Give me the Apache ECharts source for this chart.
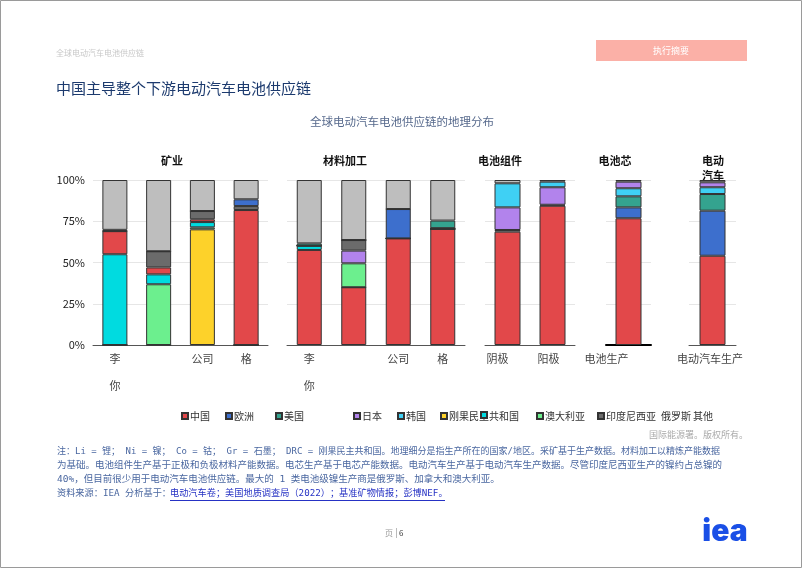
<!DOCTYPE html>
<html>
<head>
<meta charset="utf-8">
<script src="https://cdn.jsdelivr.net/npm/echarts@6/dist/echarts.min.js"></script>
<style>
html,body{margin:0;padding:0;background:#fff;}
#c{width:802px;height:568px;}
</style>
</head>
<body>
<div id="c"></div>
<script>
// ---------- data ----------
const yTicks = [0, 25, 50, 75, 100];

const miningCategories = ['李\n\n你', '', '公司', '格'];
const miningSeries = ['刚果民主共和国', '澳大利亚', '智利', '中国', '印度尼西亚', '欧洲', '其他'];
const miningValues = [
  [0, 0, 70.1, 0],
  [0, 36.8, 1.2, 0],
  [55, 6, 3.2, 0],
  [14, 4.2, 1.7, 81.8],
  [0, 9.8, 5, 2.4],
  [0.8, 0, 0, 4.1],
  [30.2, 43.2, 18.8, 11.7]
];

const processingCategories = ['李\n\n你', '', '公司', '格'];
const processingSeries = ['中国', '智利', '澳大利亚', '日本', '印度尼西亚', '欧洲', '美国', '其他'];
const processingValues = [
  [57.6, 35, 64.6, 70.3],
  [2.6, 0, 0, 0],
  [0, 14.5, 0, 0],
  [0, 7.7, 0, 0],
  [0, 6.4, 0, 0.5],
  [0, 0, 17.8, 0],
  [1.4, 0, 0, 4.6],
  [38.4, 36.4, 17.6, 24.6]
];

const componentCategories = ['阴极', '阳极'];
const componentSeries = ['中国', '印度尼西亚', '日本', '韩国', '其他'];
const componentValues = [
  [68.7, 84.4],
  [1, 0.6],
  [13.7, 10.6],
  [14.6, 3.4],
  [2, 1]
];

const cellCategories = ['电池生产'];
const cellSeries = ['中国', '欧洲', '美国', '韩国', '日本', '其他'];
const cellValues = [[76.8], [6.6], [6.7], [4.9], [4], [1]];

const evCategories = ['电动汽车生产'];
const evSeries = ['中国', '欧洲', '美国', '韩国', '日本', '其他'];
const evValues = [[54.1], [27.3], [10.1], [4.1], [3], [1.4]];

const groupTitles = ['矿业', '材料加工', '电池组件', '电池芯', '电动\n汽车'];
const legendNames = ['中国', '欧洲', '美国', '日本', '韩国', '刚果民主共和国', '智利', '澳大利亚', '印度尼西亚', '其他'];

// ---------- styles ----------
const colors = {
  '中国': '#e2484a', '欧洲': '#3d6fcd', '美国': '#34a38f', '日本': '#b283ec', '韩国': '#3fd0f4',
  '刚果民主共和国': '#fdd22a', '智利': '#00dbe0', '澳大利亚': '#6cef8e', '印度尼西亚': '#6b6b6b', '其他': '#bebebe'
};
const FONT = '"Noto Sans CJK SC", "Noto Sans", sans-serif';
const NOTEFONT = '"DejaVu Sans Mono", "Noto Sans CJK SC", monospace';

const groups = [
  {cats: miningCategories, names: miningSeries, vals: miningValues, left: 93, width: 175},
  {cats: processingCategories, names: processingSeries, vals: processingValues, left: 287, width: 178},
  {cats: componentCategories, names: componentSeries, vals: componentValues, left: 485, width: 90},
  {cats: cellCategories, names: cellSeries, vals: cellValues, left: 606, width: 45},
  {cats: evCategories, names: evSeries, vals: evValues, left: 689, width: 47}
];
const titlePos = [[172, 161], [345, 161], [500, 161], [615, 161], [713, 168]];
const legendLeft = [176, 220, 270, 348, 392, 435, 475, 531, 592, 680];

const grids = [], xAxes = [], yAxes = [], series = [];
groups.forEach((g, i) => {
  grids.push({left: g.left, width: g.width, top: 180, height: 165, containLabel: false});
  const isCell = i === 3;
  const lbl = {
    fontFamily: FONT, fontSize: 11, color: '#444', lineHeight: 13.5, margin: 7, interval: 0
  };
  if (i === 2) {
    lbl.formatter = (v, idx) => idx === 0 ? '{a|' + v + '}' : '{b|' + v + '}';
    lbl.rich = {a: {padding: [0, 20, 0, 0], fontSize: 11, fontFamily: FONT, color: '#444'},
                b: {padding: [0, 8, 0, 0], fontSize: 11, fontFamily: FONT, color: '#444'}};
  }
  if (isCell) lbl.padding = [0, 44, 0, 0];
  if (i === 4) lbl.padding = [0, 5, 0, 0];
  xAxes.push({
    type: 'category', gridIndex: i, data: g.cats,
    axisTick: {show: false},
    axisLine: {lineStyle: {color: isCell ? '#000' : '#555', width: isCell ? 2 : 1}},
    axisLabel: lbl
  });
  yAxes.push({
    type: 'value', gridIndex: i, min: 0, max: 100, interval: 25,
    axisLine: {show: false}, axisTick: {show: false},
    axisLabel: {show: i === 0, formatter: '{value}%', fontFamily: FONT, fontSize: 11, color: '#222', margin: 8},
    splitLine: {lineStyle: {color: '#e6e6e6', width: 1}}
  });
  g.names.forEach((name, k) => {
    series.push({
      type: 'bar', name: name, xAxisIndex: i, yAxisIndex: i, stack: 'g' + i,
      barWidth: i >= 2 ? 26 : 25,
      data: g.vals[k],
      itemStyle: {color: colors[name], borderColor: '#333', borderWidth: 1},
      emphasis: {disabled: true}
    });
  });
});

const legends = legendNames.map((name, i) => {
  const lg = {
    data: [name], left: legendLeft[i], top: 406, icon: 'rect', itemWidth: 6, itemHeight: 6, itemGap: 2,
    textStyle: {fontFamily: FONT, fontSize: 10, color: '#333', padding: [0, 0, 0, -3]},
    selectedMode: false
  };
  if (name === '智利') lg.formatter = () => '';
  if (name === '其他') lg.itemStyle = {color: 'rgba(0,0,0,0)', borderWidth: 0};
  return lg;
});

const graphic = [
  {type: 'rect', shape: {x: 0.5, y: 0.5, width: 801, height: 567}, style: {fill: 'none', stroke: '#9a9a9a', lineWidth: 1}, silent: true},
  {type: 'text', left: 56, top: 49, style: {text: '全球电动汽车电池供应链', font: '8px ' + FONT, fill: '#c8c8c8'}},
  {type: 'rect', shape: {x: 596, y: 40, width: 151, height: 21}, style: {fill: '#fbb0a7'}},
  {type: 'text', x: 671, y: 50.5, style: {text: '执行摘要', font: '9px ' + FONT, fill: '#ffffff', textAlign: 'center', textVerticalAlign: 'middle'}},
  {type: 'text', x: 56, y: 88, style: {text: '中国主导整个下游电动汽车电池供应链', font: '15px ' + FONT, fill: '#1c3a6e', textVerticalAlign: 'middle'}},
  {type: 'text', x: 402, y: 122, style: {text: '全球电动汽车电池供应链的地理分布', font: '11.5px ' + FONT, fill: '#56698c', textAlign: 'center', textVerticalAlign: 'middle'}},
  {type: 'text', x: 661, y: 416, style: {text: '俄罗斯', font: '10px ' + FONT, fill: '#333', textVerticalAlign: 'middle'}},
  {type: 'text', x: 748, y: 435, style: {text: '国际能源署。版权所有。', font: '9px ' + FONT, fill: '#aaaaaa', textAlign: 'right', textVerticalAlign: 'middle'}},
  {type: 'text', x: 57, y: 452, style: {text: '注：Li = 锂； Ni = 镍； Co = 钴； Gr = 石墨； DRC = 刚果民主共和国。地理细分是指生产所在的国家/地区。采矿基于生产数据。材料加工以精炼产能数据', font: '9px ' + NOTEFONT, fill: '#4a67a0', textVerticalAlign: 'middle'}},
  {type: 'text', x: 57, y: 466, style: {text: '为基础。电池组件生产基于正极和负极材料产能数据。电芯生产基于电芯产能数据。电动汽车生产基于电动汽车生产数据。尽管印度尼西亚生产的镍约占总镍的', font: '9.5px ' + NOTEFONT, fill: '#4a67a0', textVerticalAlign: 'middle'}},
  {type: 'text', x: 57, y: 480, style: {text: '40%，但目前很少用于电动汽车电池供应链。最大的 1 类电池级镍生产商是俄罗斯、加拿大和澳大利亚。', font: '9.5px ' + NOTEFONT, fill: '#4a67a0', textVerticalAlign: 'middle'}},
  {type: 'text', x: 57, y: 494, style: {text: '资料来源：IEA 分析基于：', font: '9.2px ' + NOTEFONT, fill: '#4a67a0', textVerticalAlign: 'middle'}},
  {type: 'text', x: 170, y: 494, style: {text: '电动汽车卷；美国地质调查局（2022）；基准矿物情报；彭博NEF。', font: '9.2px ' + NOTEFONT, fill: '#2632c4', textVerticalAlign: 'middle'}},
  {type: 'line', shape: {x1: 170, y1: 500.5, x2: 445, y2: 500.5}, style: {stroke: '#2632c4', lineWidth: 1}},
  {type: 'text', x: 385, y: 533, style: {text: '页', font: '8px ' + FONT, fill: '#999', textVerticalAlign: 'middle'}},
  {type: 'line', shape: {x1: 396.5, y1: 528, x2: 396.5, y2: 538}, style: {stroke: '#bbb', lineWidth: 1}},
  {type: 'text', x: 399, y: 533, style: {text: '6', font: '8px ' + FONT, fill: '#333', textVerticalAlign: 'middle'}},
  {type: 'text', x: 725, y: 532, style: {text: 'iea', font: '900 30px Inter, "Noto Sans", sans-serif', fill: '#1a4fe6', textAlign: 'center', textVerticalAlign: 'middle'}}
];
groupTitles.forEach((t, i) => {
  graphic.push({type: 'text', x: titlePos[i][0], y: titlePos[i][1],
    style: {text: t, font: 'bold 11px ' + FONT, fill: '#111', textAlign: 'center', textVerticalAlign: 'middle', lineHeight: 15}});
});

const chart = echarts.init(document.getElementById('c'), null, {renderer: 'canvas'});
chart.setOption({
  animation: false,
  backgroundColor: '#ffffff',
  grid: grids, xAxis: xAxes, yAxis: yAxes, series: series,
  legend: legends, graphic: graphic
});
</script>
</body>
</html>
